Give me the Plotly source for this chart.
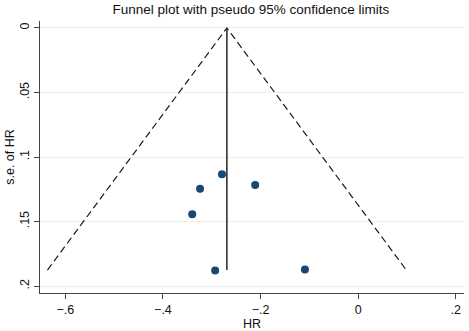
import plotly.graph_objects as go

# Study estimates (log HR) and their standard errors
hr = [-0.279, -0.324, -0.211, -0.340, -0.293, -0.109]
se_hr = [0.1134, 0.1246, 0.1217, 0.1444, 0.1879, 0.1871]

pooled = -0.269
se_max = 0.1876
z = 1.96

x_ticks = [-0.6, -0.4, -0.2, 0, 0.2]
x_ticktext = ["\u2212.6", "\u2212.4", "\u2212.2", "0", ".2"]
y_ticks = [0, 0.05, 0.1, 0.15, 0.2]
y_ticktext = ["0", ".05", ".1", ".15", ".2"]

fig = go.Figure()

# pseudo 95% confidence limits
fig.add_trace(go.Scatter(
    x=[pooled - z * se_max, pooled, pooled + z * se_max],
    y=[se_max, 0, se_max],
    mode="lines",
    line=dict(color="#1a1a1a", width=1.2, dash="7px,4px"),
    hoverinfo="skip", showlegend=False))

# pooled estimate line
fig.add_trace(go.Scatter(
    x=[pooled, pooled], y=[0, se_max],
    mode="lines",
    line=dict(color="#333333", width=1.6),
    hoverinfo="skip", showlegend=False))

fig.add_trace(go.Scatter(
    x=hr, y=se_hr, mode="markers",
    marker=dict(color="#1a476f", size=8),
    showlegend=False))

fig.update_layout(
    width=469, height=331,
    margin=dict(l=40, r=5, t=21, b=38, autoexpand=False),
    paper_bgcolor="white", plot_bgcolor="white",
    font=dict(family="Liberation Sans, Arial, sans-serif", size=12.5, color="#111111"),
    title=dict(text="Funnel plot with pseudo 95% confidence limits",
               x=0.535, xanchor="center", y=0.972, yanchor="middle",
               font=dict(size=13.5, color="#111111")),
)

fig.update_xaxes(
    range=[-0.652, 0.217], automargin=False,
    tickvals=x_ticks, ticktext=x_ticktext,
    ticks="outside", ticklen=5, tickcolor="#444444",
    showline=True, linecolor="#444444", linewidth=1.2,
    showgrid=False, zeroline=False,
    title=dict(text="HR", standoff=0, font=dict(size=12.5)),
)
fig.update_yaxes(
    range=[0.2054, -0.0054], automargin=False,
    tickvals=y_ticks, ticktext=y_ticktext, tickangle=-90,
    ticks="outside", ticklen=5, tickcolor="#444444",
    showline=True, linecolor="#444444", linewidth=1.2,
    showgrid=True, gridcolor="#eeeeee", gridwidth=1, zeroline=False,
    title=dict(text="s.e. of HR", standoff=0, font=dict(size=12.5)),
)

fig.write_html("out.html", config={"displayModeBar": False},
               post_script="document.body.style.margin='0';")
